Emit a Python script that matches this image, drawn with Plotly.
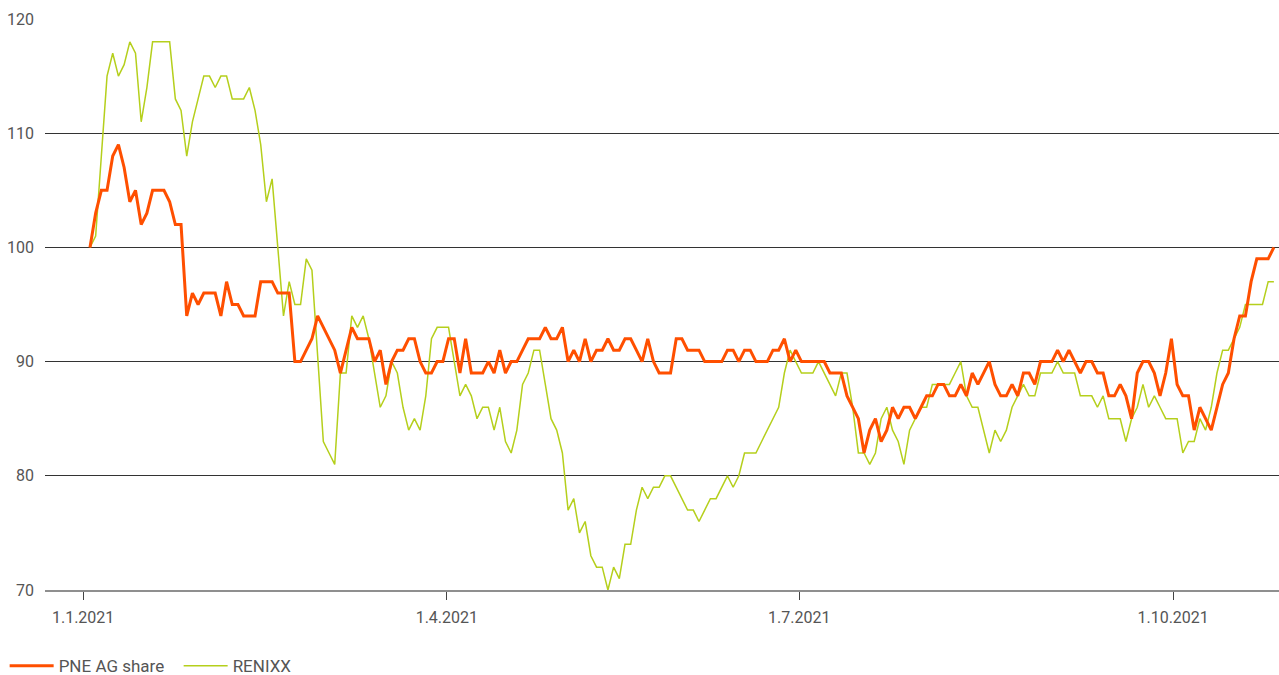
import plotly.graph_objects as go

# Indexed performance (start = 100), one value per trading day from 4 Jan 2021
pne = [
    100, 103, 105, 105, 108, 109, 107, 104, 105, 102,
    103, 105, 105, 105, 104, 102, 102, 94, 96, 95,
    96, 96, 96, 94, 97, 95, 95, 94, 94, 94,
    97, 97, 97, 96, 96, 96, 90, 90, 91, 92,
    94, 93, 92, 91, 89, 91, 93, 92, 92, 92,
    90, 91, 88, 90, 91, 91, 92, 92, 90, 89,
    89, 90, 90, 92, 92, 89, 92, 89, 89, 89,
    90, 89, 91, 89, 90, 90, 91, 92, 92, 92,
    93, 92, 92, 93, 90, 91, 90, 92, 90, 91,
    91, 92, 91, 91, 92, 92, 91, 90, 92, 90,
    89, 89, 89, 92, 92, 91, 91, 91, 90, 90,
    90, 90, 91, 91, 90, 91, 91, 90, 90, 90,
    91, 91, 92, 90, 91, 90, 90, 90, 90, 90,
    89, 89, 89, 87, 86, 85, 82, 84, 85, 83,
    84, 86, 85, 86, 86, 85, 86, 87, 87, 88,
    88, 87, 87, 88, 87, 89, 88, 89, 90, 88,
    87, 87, 88, 87, 89, 89, 88, 90, 90, 90,
    91, 90, 91, 90, 89, 90, 90, 89, 89, 87,
    87, 88, 87, 85, 89, 90, 90, 89, 87, 89,
    92, 88, 87, 87, 84, 86, 85, 84, 86, 88,
    89, 92, 94, 94, 97, 99, 99, 99, 100,
]

renixx = [
    100, 101, 108, 115, 117, 115, 116, 118, 117, 111,
    114, 118, 118, 118, 118, 113, 112, 108, 111, 113,
    115, 115, 114, 115, 115, 113, 113, 113, 114, 112,
    109, 104, 106, 100, 94, 97, 95, 95, 99, 98,
    90, 83, 82, 81, 89, 89, 94, 93, 94, 92,
    89, 86, 87, 90, 89, 86, 84, 85, 84, 87,
    92, 93, 93, 93, 90, 87, 88, 87, 85, 86,
    86, 84, 86, 83, 82, 84, 88, 89, 91, 91,
    88, 85, 84, 82, 77, 78, 75, 76, 73, 72,
    72, 70, 72, 71, 74, 74, 77, 79, 78, 79,
    79, 80, 80, 79, 78, 77, 77, 76, 77, 78,
    78, 79, 80, 79, 80, 82, 82, 82, 83, 84,
    85, 86, 89, 91, 90, 89, 89, 89, 90, 89,
    88, 87, 89, 89, 86, 82, 82, 81, 82, 85,
    86, 84, 83, 81, 84, 85, 86, 86, 88, 88,
    88, 88, 89, 90, 87, 86, 86, 84, 82, 84,
    83, 84, 86, 87, 88, 87, 87, 89, 89, 89,
    90, 89, 89, 89, 87, 87, 87, 86, 87, 85,
    85, 85, 83, 85, 86, 88, 86, 87, 86, 85,
    85, 85, 82, 83, 83, 85, 84, 86, 89, 91,
    91, 92, 93, 95, 95, 95, 95, 97, 97,
]

series_names = ["PNE AG share", "RENIXX"]
tick_labels = ["1.1.2021", "1.4.2021", "1.7.2021", "1.10.2021"]
tick_pos = [-1.2, 62.7, 124.6, 190.3]   # trading-day index of each date
y_ticks = [70, 80, 90, 100, 110, 120]

days = list(range(len(pne)))

fig = go.Figure()
fig.add_trace(go.Scatter(
    x=days, y=renixx, mode="lines", name=series_names[1],
    line=dict(color="#b5cf1c", width=1.5), legendrank=2, cliponaxis=False,
))
fig.add_trace(go.Scatter(
    x=days, y=pne, mode="lines", name=series_names[0],
    line=dict(color="#ff4f00", width=3), legendrank=1, cliponaxis=False,
))

fig.update_layout(
    width=1279, height=675,
    margin=dict(l=45, r=0, t=19, b=85, autoexpand=False),
    paper_bgcolor="white", plot_bgcolor="white",
    font=dict(family="Roboto", size=14, color="#555555"),
    showlegend=True,
    legend=dict(
        orientation="h", xref="paper", yref="container",
        x=-0.0327, xanchor="left", y=0.013, yanchor="middle",
        font=dict(size=17, color="#555555"), itemwidth=44,
        entrywidth=115, entrywidthmode="pixels",
        bgcolor="rgba(0,0,0,0)",
    ),
    xaxis=dict(
        range=[-7.9, 208.9], showgrid=False, zeroline=False, automargin=False,
        tickmode="array", tickvals=tick_pos, ticktext=tick_labels,
        ticks="outside", ticklen=8, tickcolor="#444444", tickwidth=1,
        showline=True, linecolor="#8f8f8f", linewidth=2,
        ticklabelstandoff=4,
        tickfont=dict(size=16, color="#555555"),
    ),
    yaxis=dict(
        range=[70, 120], tickvals=y_ticks, showgrid=True, automargin=False,
        gridcolor="#333333", gridwidth=1, zeroline=False,
        showline=False, ticks="", ticklabelstandoff=10,
        tickfont=dict(size=16, color="#555555"),
    ),
)

page_css = (
    "document.documentElement.style.margin='0';"
    "document.documentElement.style.overflow='hidden';"
    "document.body.style.margin='0';"
    "document.body.style.overflow='hidden';"
)

fig.write_html("out.html", post_script=page_css,
               config={"displayModeBar": False})
